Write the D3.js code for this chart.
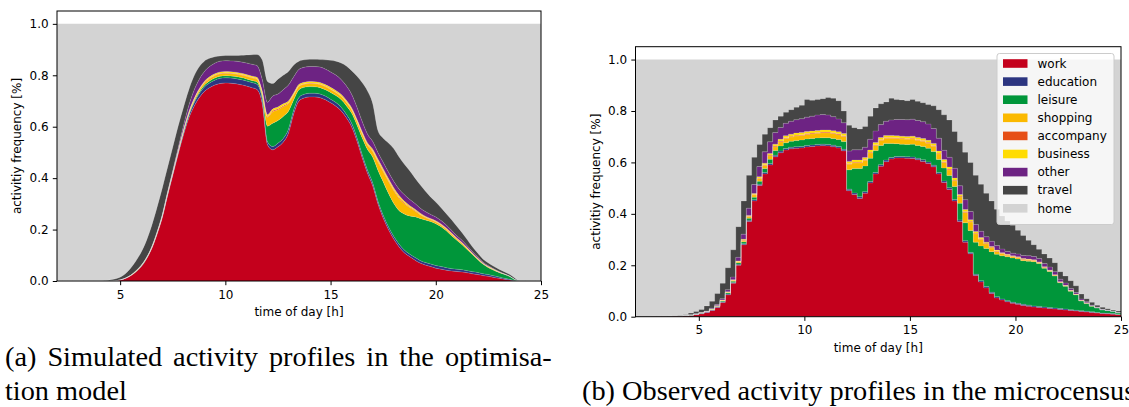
<!DOCTYPE html>
<html>
<head>
<meta charset="utf-8">
<script src="https://cdn.jsdelivr.net/npm/d3@7"></script>
<style>
  body { margin: 0; background: #fff; }
  svg { display: block; }
</style>
</head>
<body>
<div id="figure"></div>
<script>
// DATA //
// time grid: one value every 15 minutes, 2:00 .. 25:00 (93 steps)
const hours = d3.range(0, 93).map(i => 2 + i * 0.25)

const activityKeys = ["work", "education", "leisure", "shopping", "accompany", "business", "other", "travel"]
const legendKeys = [...activityKeys, "home"]
const yTicks = [0, 0.2, 0.4, 0.6, 0.8, 1.0]
const xTicks = [5, 10, 15, 20, 25]

// (a) simulated profiles, one row per hour (:00 :15 :30 :45)
const simWork = [
    0, 0, 0, 0,
    0, 0, 0, 0,
    0, 0, 0, .001,
    .004, .01, .02, .035,
    .055, .085, .125, .18,
    .245, .33, .41, .49,
    .565, .63, .677, .712,
    .737, .752, .762, .768,
    .77, .769, .767, .763,
    .758, .752, .745, .69,
    .53, .51, .522, .54,
    .575, .65, .7, .712,
    .716, .716, .713, .705,
    .693, .68, .662, .635,
    .6, .545, .48, .42,
    .37, .3, .245, .2,
    .163, .133, .11, .095,
    .082, .07, .062, .056,
    .05, .046, .042, .039,
    .037, .035, .032, .028,
    .025, .021, .018, .014,
    .011, .007, .004, .001,
    0, 0, 0, 0,
    0]
const simEducation = [
    0, 0, 0, 0,
    0, 0, 0, 0,
    0, 0, 0, 0,
    0, .001, .001, .001,
    .002, .002, .002, .003,
    .003, .004, .005, .006,
    .008, .01, .013, .015,
    .017, .018, .019, .02,
    .02, .02, .02, .02,
    .02, .02, .02, .018,
    .012, .013, .014, .014,
    .015, .015, .014, .014,
    .014, .014, .014, .014,
    .014, .014, .014, .013,
    .013, .013, .012, .012,
    .012, .011, .011, .011,
    .011, .011, .011, .01,
    .01, .01, .01, .01,
    .01, .01, .01, .009,
    .009, .009, .008, .008,
    .008, .007, .007, .006,
    .005, .004, .003, .001,
    0, 0, 0, 0,
    0]
const simLeisure = [
    0, 0, 0, 0,
    0, 0, 0, 0,
    0, 0, 0, 0,
    0, 0, 0, .001,
    .001, .001, .001, .001,
    .002, .002, .002, .002,
    .003, .004, .005, .006,
    .007, .008, .008, .008,
    .008, .008, .008, .008,
    .008, .008, .009, .012,
    .06, .09, .088, .086,
    .07, .04, .03, .027,
    .026, .025, .025, .025,
    .026, .027, .03, .034,
    .04, .05, .065, .08,
    .1, .12, .13, .13,
    .128, .13, .14, .148,
    .158, .163, .165, .165,
    .163, .155, .143, .128,
    .112, .097, .082, .066,
    .05, .037, .027, .022,
    .017, .015, .011, .004,
    0, 0, 0, 0,
    0]
const simShopping = [
    0, 0, 0, 0,
    0, 0, 0, 0,
    0, 0, 0, 0,
    0, 0, .001, .001,
    .001, .001, .002, .002,
    .002, .003, .003, .004,
    .005, .006, .007, .008,
    .009, .009, .01, .01,
    .01, .01, .01, .01,
    .01, .01, .011, .013,
    .035, .045, .042, .038,
    .03, .018, .013, .012,
    .012, .012, .012, .012,
    .012, .012, .012, .013,
    .013, .014, .015, .017,
    .022, .032, .04, .047,
    .05, .048, .04, .033,
    .023, .015, .01, .007,
    .006, .006, .006, .006,
    .005, .005, .004, .003,
    .003, .002, .002, .002,
    .001, .001, .001, 0,
    0, 0, 0, 0,
    0]
const simAccompany = [
    0, 0, 0, 0,
    0, 0, 0, 0,
    0, 0, 0, 0,
    0, 0, 0, 0,
    0, 0, 0, .001,
    .001, .001, .001, .001,
    .001, .001, .002, .002,
    .002, .002, .002, .002,
    .002, .002, .002, .002,
    .002, .002, .002, .002,
    .003, .004, .004, .004,
    .003, .003, .002, .002,
    .002, .002, .002, .002,
    .002, .002, .002, .002,
    .002, .002, .003, .003,
    .003, .004, .004, .004,
    .004, .004, .004, .003,
    .003, .002, .002, .002,
    .002, .002, .002, .002,
    .002, .002, .001, .001,
    .001, .001, .001, .001,
    .001, 0, 0, 0,
    0, 0, 0, 0,
    0]
const simBusiness = [
    0, 0, 0, 0,
    0, 0, 0, 0,
    0, 0, 0, 0,
    0, 0, 0, .001,
    .001, .001, .001, .001,
    .001, .001, .002, .002,
    .002, .003, .003, .004,
    .004, .005, .005, .005,
    .005, .005, .005, .005,
    .005, .005, .005, .005,
    .007, .007, .007, .007,
    .007, .006, .006, .006,
    .006, .006, .006, .006,
    .006, .006, .006, .006,
    .006, .006, .006, .006,
    .006, .007, .007, .007,
    .007, .007, .006, .005,
    .004, .004, .003, .003,
    .003, .003, .003, .003,
    .002, .002, .002, .002,
    .001, .001, .001, .001,
    .001, 0, 0, 0,
    0, 0, 0, 0,
    0]
const simOther = [
    0, 0, 0, 0,
    0, 0, 0, 0,
    0, 0, 0, 0,
    0, 0, 0, .001,
    .001, .001, .002, .002,
    .003, .004, .006, .01,
    .016, .025, .032, .036,
    .038, .04, .041, .042,
    .042, .042, .043, .044,
    .045, .046, .046, .045,
    .048, .05, .05, .055,
    .062, .062, .058, .058,
    .058, .059, .06, .06,
    .06, .06, .058, .056,
    .052, .047, .04, .034,
    .03, .026, .025, .025,
    .025, .025, .025, .024,
    .022, .02, .018, .016,
    .015, .013, .012, .01,
    .009, .008, .007, .006,
    .005, .004, .003, .002,
    .001, .001, 0, 0,
    0, 0, 0, 0,
    0]
const simTravel = [
    0, 0, 0, 0,
    0, 0, 0, 0,
    0, .001, .004, .007,
    .011, .017, .028, .038,
    .051, .066, .082, .095,
    .103, .095, .091, .085,
    .072, .061, .056, .049,
    .041, .032, .025, .02,
    .02, .021, .022, .026,
    .031, .037, .043, .075,
    .081, .049, .058, .056,
    .053, .046, .032, .029,
    .028, .028, .029, .036,
    .045, .054, .064, .077,
    .092, .12, .151, .168,
    .147, .085, .093, .113,
    .127, .125, .119, .112,
    .1, .091, .08, .068,
    .058, .05, .044, .041,
    .037, .03, .024, .018,
    .015, .012, .011, .009,
    .009, .008, .007, .006,
    0, 0, 0, 0,
    0]

// (b) observed profiles (microcensus)
const obsWork = [
    0, 0, 0, .001,
    .001, .001, .001, .002,
    .002, .003, .005, .008,
    .011, .016, .024, .036,
    .055, .085, .13, .2,
    .28, .37, .45, .51,
    .555, .59, .622, .638,
    .648, .653, .655, .656,
    .66, .662, .664, .665,
    .664, .661, .656, .645,
    .49, .475, .46, .48,
    .52, .555, .585, .603,
    .613, .617, .617, .616,
    .615, .61, .604, .596,
    .583, .555, .522, .495,
    .45, .37, .29, .245,
    .16, .135, .112, .09,
    .073, .065, .058, .052,
    .048, .044, .041, .038,
    .036, .034, .032, .03,
    .028, .026, .024, .022,
    .02, .018, .016, .014,
    .012, .011, .01, .008,
    .007]
const obsEducation = [
    0, 0, 0, 0,
    0, 0, 0, 0,
    0, .001, .001, .001,
    .002, .002, .002, .002,
    .003, .003, .003, .004,
    .004, .005, .005, .005,
    .006, .006, .006, .006,
    .006, .006, .006, .006,
    .006, .006, .006, .006,
    .006, .006, .006, .006,
    .006, .006, .006, .006,
    .006, .006, .006, .006,
    .006, .006, .006, .006,
    .006, .006, .006, .006,
    .006, .006, .006, .006,
    .006, .006, .005, .005,
    .005, .005, .005, .005,
    .005, .004, .004, .004,
    .004, .004, .004, .004,
    .004, .004, .004, .004,
    .004, .004, .003, .003,
    .003, .003, .003, .002,
    .002, .002, .002, .001,
    .001]
const obsLeisure = [
    0, 0, 0, 0,
    0, 0, 0, 0,
    0, 0, .001, .001,
    .001, .001, .002, .002,
    .003, .004, .005, .006,
    .007, .008, .01, .012,
    .015, .016, .018, .02,
    .022, .023, .024, .025,
    .025, .025, .025, .025,
    .026, .026, .027, .03,
    .075, .095, .11, .1,
    .09, .085, .075, .065,
    .055, .05, .048, .048,
    .05, .05, .052, .053,
    .053, .05, .05, .048,
    .05, .065, .07, .085,
    .125, .135, .148, .158,
    .165, .168, .171, .172,
    .172, .17, .171, .172,
    .167, .15, .14, .124,
    .1, .088, .072, .06,
    .038, .03, .022, .018,
    .013, .011, .009, .006,
    .005]
const obsShopping = [
    0, 0, 0, 0,
    0, 0, 0, 0,
    0, 0, 0, 0,
    .001, .001, .001, .001,
    .002, .002, .003, .004,
    .005, .006, .008, .01,
    .012, .014, .015, .016,
    .017, .017, .018, .018,
    .018, .018, .018, .019,
    .019, .019, .019, .02,
    .022, .022, .022, .022,
    .021, .02, .02, .02,
    .02, .02, .02, .02,
    .02, .02, .02, .02,
    .021, .022, .022, .022,
    .022, .025, .04, .033,
    .032, .025, .018, .014,
    .011, .008, .006, .005,
    .005, .004, .004, .004,
    .003, .003, .003, .003,
    .002, .002, .002, .001,
    .001, .001, .001, .001,
    0, 0, 0, 0,
    0]
const obsAccompany = [
    0, 0, 0, 0,
    0, 0, 0, 0,
    0, 0, 0, 0,
    0, 0, 0, .001,
    .001, .001, .001, .001,
    .002, .002, .002, .002,
    .003, .003, .003, .003,
    .003, .003, .003, .003,
    .003, .003, .003, .003,
    .003, .003, .003, .003,
    .003, .003, .003, .003,
    .003, .003, .003, .003,
    .003, .003, .003, .003,
    .003, .003, .003, .003,
    .003, .003, .003, .003,
    .003, .003, .004, .003,
    .003, .003, .003, .003,
    .002, .002, .002, .002,
    .002, .002, .002, .002,
    .002, .002, .001, .001,
    .001, .001, .001, .001,
    .001, .001, 0, 0,
    0, 0, 0, 0,
    0]
const obsBusiness = [
    0, 0, 0, 0,
    0, 0, 0, 0,
    0, 0, 0, 0,
    0, 0, .001, .001,
    .001, .002, .002, .002,
    .003, .003, .004, .005,
    .006, .006, .007, .007,
    .008, .008, .008, .008,
    .008, .008, .008, .008,
    .008, .008, .008, .008,
    .008, .008, .008, .008,
    .008, .008, .008, .008,
    .008, .008, .008, .008,
    .008, .008, .008, .008,
    .008, .008, .008, .008,
    .008, .006, .008, .006,
    .006, .005, .004, .003,
    .003, .002, .002, .002,
    .002, .002, .002, .001,
    .001, .001, .001, .001,
    .001, .001, .001, .001,
    .001, .001, 0, 0,
    0, 0, 0, 0,
    0]
const obsOther = [
    0, 0, 0, 0,
    0, 0, 0, 0,
    0, 0, 0, .001,
    .001, .002, .003, .004,
    .005, .008, .01, .014,
    .02, .028, .035, .04,
    .044, .045, .045, .046,
    .048, .05, .052, .054,
    .056, .058, .06, .06,
    .058, .055, .05, .042,
    .04, .04, .04, .04,
    .042, .045, .05, .055,
    .06, .063, .065, .065,
    .066, .066, .065, .063,
    .058, .05, .036, .038,
    .038, .034, .038, .032,
    .028, .024, .021, .02,
    .018, .014, .011, .01,
    .011, .012, .013, .013,
    .013, .013, .012, .012,
    .01, .009, .007, .006,
    .005, .004, .003, .002,
    .002, .002, .001, .001,
    .001]
const obsTravel = [
    .001, .001, .001, .001,
    .001, .001, .002, .002,
    .003, .004, .007, .009,
    .012, .02, .027, .043,
    .06, .085, .106, .119,
    .129, .128, .106, .086,
    .069, .055, .049, .044,
    .043, .045, .049, .052,
    .069, .062, .061, .062,
    .068, .072, .071, .046,
    .101, .086, .081, .081,
    .09, .09, .081, .075,
    .085, .078, .076, .074,
    .077, .075, .074, .076,
    .088, .111, .138, .145,
    .143, .171, .185, .191,
    .191, .183, .169, .157,
    .141, .129, .118, .109,
    .092, .078, .06, .046,
    .036, .037, .035, .035,
    .029, .027, .03, .026,
    .019, .012, .011, .008,
    .008, .005, .004, .006,
    .006]

const colors = {
    work: "#c4001c",
    education: "#2c3580",
    leisure: "#00963a",
    shopping: "#fbb900",
    accompany: "#e64f16",
    business: "#ffdc00",
    other: "#6d2383",
    travel: "#454545",
    home: "#d3d3d3",
}

// GLOBAL VARIABLES //
const width = 1129
const height = 407

const panels = [
    {
        name: "sim",
        left: 57, right: 541, top: 11, bottom: 281,
        curve: d3.curveMonotoneX,
        legend: false,
        series: {
            work: simWork, education: simEducation, leisure: simLeisure,
            shopping: simShopping, accompany: simAccompany, business: simBusiness,
            other: simOther, travel: simTravel,
        },
    },
    {
        name: "obs",
        left: 635.5, right: 1121, top: 46.7, bottom: 316.7,
        curve: d3.curveStepAfter,
        legend: true,
        series: {
            work: obsWork, education: obsEducation, leisure: obsLeisure,
            shopping: obsShopping, accompany: obsAccompany, business: obsBusiness,
            other: obsOther, travel: obsTravel,
        },
    },
]

const font = "DejaVu Sans, sans-serif"

const svg = d3.select("#figure")
    .append("svg")
    .attr("width", width)
    .attr("height", height)

svg.append("rect")
    .attr("width", width)
    .attr("height", height)
    .attr("fill", "#fff")

function buildRows(series) {
    return hours.map((h, i) => {
        const row = { hour: h }
        activityKeys.forEach(k => row[k] = series[k][i])
        return row
    })
}

function drawPanel(p) {
    const xScale = d3.scaleLinear()
        .domain([2, 25])
        .range([p.left, p.right])

    const yScale = d3.scaleLinear()
        .domain([0, 1.05])
        .range([p.bottom, p.top])

    const layers = d3.stack()
        .keys(activityKeys)(buildRows(p.series))

    const g = svg.append("g").attr("id", p.name)

    g.append("clipPath")
        .attr("id", "clip-" + p.name)
        .append("rect")
        .attr("x", p.left)
        .attr("y", p.top)
        .attr("width", p.right - p.left)
        .attr("height", p.bottom - p.top)

    const plot = g.append("g")
        .attr("clip-path", `url(#clip-${p.name})`)

    const areaGenerator = d3.area()
        .x(d => xScale(d.data.hour))
        .y0(d => yScale(d[0]))
        .y1(d => yScale(d[1]))
        .curve(p.curve)

    // home = everything between the stacked activities and 1.0
    const topLayer = layers[layers.length - 1]
    const homeArea = d3.area()
        .x(d => xScale(d.data.hour))
        .y0(d => yScale(d[1]))
        .y1(yScale(1))
        .curve(p.curve)

    plot.append("path")
        .datum(topLayer)
        .attr("d", homeArea)
        .attr("fill", colors.home)

    plot.selectAll(".layer")
        .data(layers)
        .join("path")
        .attr("class", "layer")
        .attr("d", areaGenerator)
        .attr("fill", d => colors[d.key])

    // faint seams between the fills, like the original rasterised figure
    const seam = d3.line()
        .x(d => xScale(d.data.hour))
        .y(d => yScale(d[1]))
        .curve(p.curve)

    plot.selectAll(".seam")
        .data(layers)
        .join("path")
        .attr("class", "seam")
        .attr("d", seam)
        .attr("fill", "none")
        .attr("stroke", "#fff")
        .attr("stroke-opacity", 0.28)
        .attr("stroke-width", 0.6)

    // axes
    const xAxis = g.append("g")
        .attr("transform", `translate(0, ${p.bottom})`)
        .call(d3.axisBottom(xScale).tickValues(xTicks).tickSize(4.2).tickPadding(4.8))
    const yAxis = g.append("g")
        .attr("transform", `translate(${p.left}, 0)`)
        .call(d3.axisLeft(yScale).tickValues(yTicks).tickFormat(d3.format(".1f")).tickSize(4.2).tickPadding(4.2))

    ;[xAxis, yAxis].forEach(a => {
        a.select(".domain").remove()
        a.attr("font-family", font).attr("font-size", 12)
        a.selectAll("line").attr("stroke", "#000").attr("stroke-width", 1)
        a.selectAll("text").attr("fill", "#000")
    })

    // spines
    g.append("rect")
        .attr("x", p.left)
        .attr("y", p.top)
        .attr("width", p.right - p.left)
        .attr("height", p.bottom - p.top)
        .attr("fill", "none")
        .attr("stroke", "#000")
        .attr("stroke-width", 1)

    g.append("text")
        .attr("x", (p.left + p.right) / 2)
        .attr("y", p.bottom + 35)
        .attr("text-anchor", "middle")
        .attr("font-family", font)
        .attr("font-size", 12)
        .text("time of day [h]")

    g.append("text")
        .attr("transform", `translate(${p.left - 36}, ${(p.top + p.bottom) / 2}) rotate(-90)`)
        .attr("text-anchor", "middle")
        .attr("font-family", font)
        .attr("font-size", 12)
        .text("activitiy frequency [%]")

    if (p.legend) drawLegend(g, p)
}

function drawLegend(g, p) {
    const lx = 997
    const ly = 53.5
    const rowStep = 18.1

    const legend = g.append("g").attr("class", "legend")

    legend.append("rect")
        .attr("x", lx)
        .attr("y", ly)
        .attr("width", 117)
        .attr("height", 171)
        .attr("rx", 2.5)
        .attr("fill", "#fff")
        .attr("fill-opacity", 0.8)
        .attr("stroke", "#cccccc")
        .attr("stroke-width", 1)

    const items = legend.selectAll(".item")
        .data(legendKeys)
        .join("g")
        .attr("class", "item")
        .attr("transform", (d, i) => `translate(${lx + 6}, ${ly + 10 + i * rowStep})`)

    items.append("rect")
        .attr("x", 0)
        .attr("y", -4.3)
        .attr("width", 24.5)
        .attr("height", 8.6)
        .attr("fill", d => colors[d])

    items.append("text")
        .attr("x", 34.5)
        .attr("y", 0)
        .attr("dy", "0.35em")
        .attr("font-family", font)
        .attr("font-size", 12)
        .text(d => d)
}

panels.forEach(drawPanel)

// captions (first line of (a) is justified, hence the wider word spacing)
const captions = [
    { x: 5, y: 366, spacing: 3.9, text: "(a) Simulated activity profiles in the optimisa-" },
    { x: 5, y: 400, spacing: 0, text: "tion model" },
    { x: 582, y: 400, spacing: 0, text: "(b) Observed activity profiles in the microcensus" },
]

svg.selectAll(".caption")
    .data(captions)
    .join("text")
    .attr("class", "caption")
    .attr("x", d => d.x)
    .attr("y", d => d.y)
    .attr("font-family", "Liberation Serif, Times New Roman, serif")
    .attr("font-size", 28.3)
    .attr("word-spacing", d => d.spacing)
    .attr("fill", "#000")
    .text(d => d.text)
</script>
</body>
</html>
